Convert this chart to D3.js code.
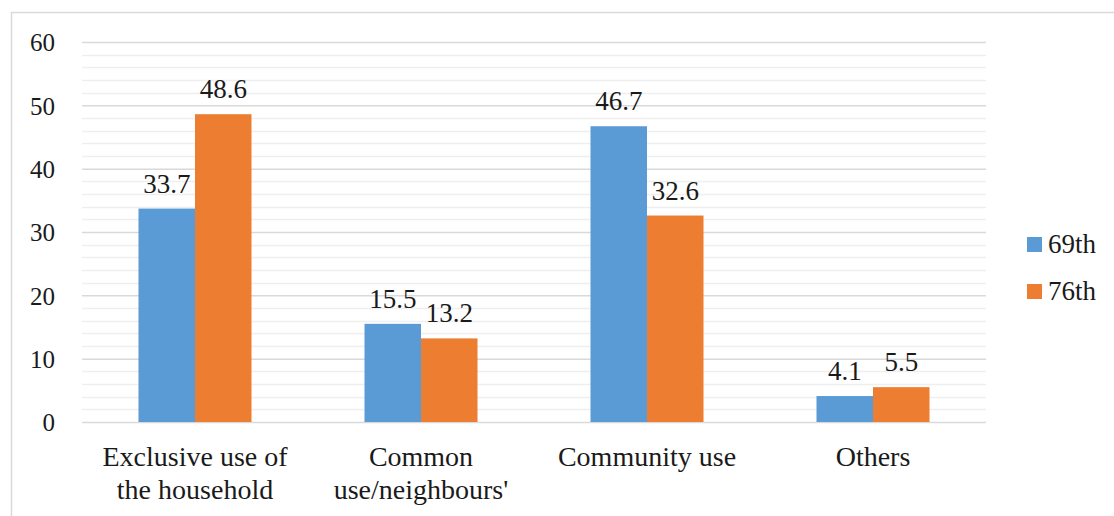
<!DOCTYPE html>
<html>
<head>
<meta charset="utf-8">
<script src="https://cdn.jsdelivr.net/npm/d3@7"></script>
<style>
  html, body { margin: 0; padding: 0; background: #fff; }
  svg { display: block; }
  svg text { font-family: "Liberation Serif", "Times New Roman", Tinos, "DejaVu Serif", serif; fill: #1a1a1a; }
</style>
</head>
<body>
<svg id="chart" width="1114" height="516"></svg>
<script>
// Categories (x-axis labels, split into lines)
const categories = [
  ["Exclusive use of", "the household"],
  ["Common", "use/neighbours'"],
  ["Community use"],
  ["Others"]
];
const seriesNames = ["69th", "76th"];
const values69 = [33.7, 15.5, 46.7, 4.1];
const values76 = [48.6, 13.2, 32.6, 5.5];
const yTicks = [0, 10, 20, 30, 40, 50, 60];
const colors = ["#5b9bd5", "#ed7d31"];

const svg = d3.select("#chart");
const W = 1114, H = 516;
const plot = { left: 82, right: 986, top: 42, bottom: 422 };

// Outer frame
svg.append("rect")
  .attr("x", 11.5).attr("y", 12.5)
  .attr("width", W + 20).attr("height", H + 20)
  .attr("fill", "none").attr("stroke", "#d9d9d9").attr("stroke-width", 1.5);

const y = d3.scaleLinear().domain([0, 60]).range([plot.bottom, plot.top]);
const x0 = d3.scaleBand()
  .domain(d3.range(categories.length))
  .range([plot.left, plot.right])
  .paddingInner(0.5).paddingOuter(0.25);
const x1 = d3.scaleBand().domain([0, 1]).range([0, x0.bandwidth()]);

// Minor gridlines every 2 units
svg.append("g").selectAll("line")
  .data(d3.range(0, 61, 2).filter(v => v % 10 !== 0))
  .join("line")
  .attr("x1", plot.left).attr("x2", plot.right)
  .attr("y1", d => Math.round(y(d)) + 0.5).attr("y2", d => Math.round(y(d)) + 0.5)
  .attr("stroke", "#efefef").attr("stroke-width", 1.5);

// Major gridlines and y axis labels
const yAxis = d3.axisLeft(y).tickValues(yTicks).tickSize(0).tickPadding(0);
const gy = svg.append("g").attr("transform", `translate(${plot.left},0)`).call(yAxis);
gy.attr("font-family", null).attr("font-size", null);
gy.select(".domain").remove();
gy.selectAll(".tick line").remove();
gy.selectAll(".tick").append("line")
  .attr("x1", 0).attr("x2", plot.right - plot.left)
  .attr("stroke", "#d9d9d9").attr("stroke-width", 1.5);
gy.selectAll(".tick text")
  .attr("x", -27)
  .attr("dy", "0.35em")
  .style("font-size", "25px")
  .attr("fill", "#1a1a1a")
  .attr("text-anchor", "end");

// Bars
const rows = categories.map((c, i) => [values69[i], values76[i]]);
const groups = svg.append("g").selectAll("g")
  .data(rows).join("g")
  .attr("transform", (d, i) => `translate(${x0(i)},0)`);

groups.selectAll("rect")
  .data(d => d.map((v, s) => ({ v, s })))
  .join("rect")
  .attr("x", d => x1(d.s))
  .attr("width", x1.bandwidth())
  .attr("y", d => y(d.v))
  .attr("height", d => y(0) - y(d.v))
  .attr("fill", d => colors[d.s]);

// Value labels
groups.selectAll("text.val")
  .data(d => d.map((v, s) => ({ v, s })))
  .join("text")
  .attr("class", "val")
  .attr("x", d => x1(d.s) + x1.bandwidth() / 2)
  .attr("y", d => y(d.v) - 16)
  .attr("text-anchor", "middle")
  .style("font-size", "27px")
  .text(d => d.v.toFixed(1));

// Category labels
const cat = svg.append("g").selectAll("text")
  .data(categories).join("text")
  .attr("x", (d, i) => x0(i) + x0.bandwidth() / 2)
  .attr("y", 466)
  .attr("text-anchor", "middle")
  .style("font-size", "28px");
cat.selectAll("tspan")
  .data(d => d).join("tspan")
  .attr("x", function () { return d3.select(this.parentNode).attr("x"); })
  .attr("dy", (d, i) => i === 0 ? 0 : 33)
  .text(d => d);

// Legend
const legend = svg.append("g").selectAll("g")
  .data(seriesNames).join("g")
  .attr("transform", (d, i) => `translate(1027, ${237 + i * 47})`);
legend.append("rect")
  .attr("width", 15).attr("height", 15)
  .attr("fill", (d, i) => colors[i]);
legend.append("text")
  .attr("x", 21).attr("y", 16)
  .style("font-size", "27px")
  .text(d => d);
</script>
</body>
</html>
